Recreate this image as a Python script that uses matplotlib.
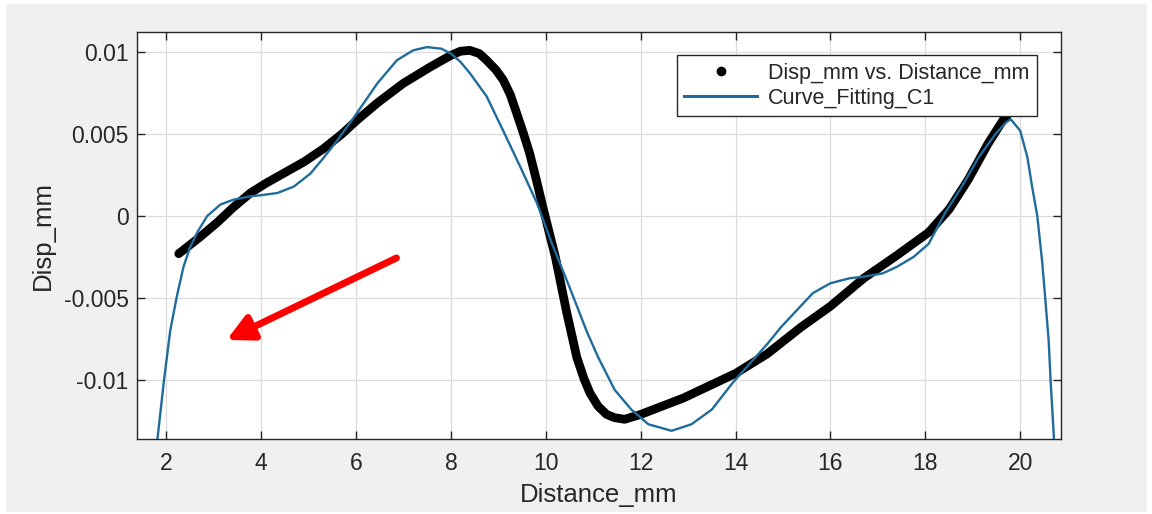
import matplotlib.pyplot as plt
from matplotlib.lines import Line2D
from matplotlib.patches import Rectangle

plt.rcParams['font.family'] = ['Liberation Sans', 'DejaVu Sans']

disp_x = [2.26, 2.7, 3.07, 3.4, 3.77, 4.1, 4.47, 4.9, 5.31, 5.7, 6.0, 6.45, 7.0, 7.57,
          8.0, 8.2, 8.4, 8.6, 8.75, 8.95, 9.1, 9.25, 9.38, 9.52, 9.66, 9.8, 9.94,
          10.07, 10.2, 10.32, 10.44, 10.55, 10.65, 10.8, 10.93, 11.1, 11.28, 11.45,
          11.66, 12.0, 12.9, 14.0, 14.67, 15.37, 16.0, 16.7, 17.4, 18.07, 18.5, 18.9,
          19.32, 19.65, 19.72]
disp_y = [-0.0023, -0.0013, -0.0004, 0.0005, 0.0014, 0.0020, 0.0026, 0.0033, 0.0041,
          0.0050, 0.0058, 0.0069, 0.0081, 0.0091, 0.0098, 0.01005, 0.0101, 0.0099,
          0.0095, 0.0089, 0.0083, 0.0074, 0.0063, 0.0051, 0.0038, 0.0022, 0.0005,
          -0.0010, -0.0025, -0.0042, -0.0059, -0.0073, -0.0086, -0.0099, -0.0108,
          -0.0116, -0.0121, -0.0123, -0.0124, -0.0121, -0.0111, -0.0096, -0.0084,
          -0.0068, -0.0055, -0.0038, -0.0024, -0.0010, 0.0004, 0.0022, 0.0044, 0.0059,
          0.0061]

# fitted curve (Curve_Fitting_C1)
fit_x = [1.78, 1.95, 2.08, 2.22, 2.36, 2.5, 2.65, 2.86, 3.14, 3.42, 3.77, 4.0, 4.34,
         4.69, 5.04, 5.3, 5.6, 5.95, 6.45, 6.86, 7.2, 7.49, 7.8, 8.0, 8.2, 8.4, 8.75,
         9.1, 9.46, 9.81, 10.13, 10.52, 10.87, 11.1, 11.45, 11.8, 12.16, 12.65, 13.07,
         13.5, 13.93, 14.3, 14.67, 14.95, 15.37, 15.63, 16.0, 16.4, 16.7, 17.1, 17.4,
         17.75, 18.07, 18.42, 18.77, 19.13, 19.48, 19.7, 19.8, 20.0, 20.15, 20.25,
         20.36, 20.46, 20.53, 20.6, 20.64, 20.71, 20.72]
fit_y = [-0.0144, -0.0100, -0.0070, -0.0049, -0.0031, -0.0019, -0.0010, 0.0000, 0.0007,
         0.0010, 0.0012, 0.00127, 0.0014, 0.0018, 0.0026, 0.0035, 0.0046, 0.0060,
         0.0081, 0.0095, 0.0101, 0.0103, 0.0102, 0.0099, 0.0094, 0.0087, 0.0073, 0.0052,
         0.0030, 0.0008, -0.0017, -0.0045, -0.0071, -0.0086, -0.0106, -0.0118, -0.0127,
         -0.0131, -0.0127, -0.0118, -0.0102, -0.0090, -0.0078, -0.0068, -0.0055,
         -0.0047, -0.0041, -0.0038, -0.0037, -0.0035, -0.0031, -0.0025, -0.0017,
         0.0002, 0.0018, 0.0036, 0.0050, 0.0057, 0.0059, 0.0052, 0.0036, 0.0018,
         0.0000, -0.0027, -0.0051, -0.0076, -0.0100, -0.0135, -0.0145]

x_ticks = [2, 4, 6, 8, 10, 12, 14, 16, 18, 20]
y_ticks = [0.01, 0.005, 0, -0.005, -0.01]
y_tick_labels = ['0.01', '0.005', '0', '-0.005', '-0.01']

ink = '#262626'
fit_color = '#1f6c9c'

fig = plt.figure(figsize=(11.52, 5.14), dpi=100, facecolor='white')
fig.patches.append(Rectangle((6 / 1152, 2 / 514), 1141 / 1152, 508 / 514,
                             transform=fig.transFigure, facecolor='#f0f0f0',
                             edgecolor='none', zorder=-10))

ax = fig.add_axes([137 / 1152, 1 - 439 / 514, 924 / 1152, 407 / 514])
ax.set_facecolor('white')

ax.plot(disp_x, disp_y, color='black', lw=6.3, solid_capstyle='round',
        solid_joinstyle='round', zorder=3)
ax.plot(fit_x, fit_y, color=fit_color, lw=1.7, solid_joinstyle='round', zorder=4)

ax.set_xlim(1.38, 20.86)
ax.set_ylim(-0.0136, 0.01122)
ax.set_xticks(x_ticks)
ax.set_yticks(y_ticks, y_tick_labels)
ax.grid(True, color='#dcdcdc', lw=0.9)
ax.set_axisbelow(True)

ax.tick_params(direction='in', top=True, right=True, length=6, width=1,
               color=ink, labelcolor=ink, labelsize=16.5)
ax.tick_params(axis='x', pad=9)
ax.tick_params(axis='y', pad=6)
for s in ax.spines.values():
    s.set_color(ink)
    s.set_linewidth(1)

ax.set_xlabel('Distance_mm', fontsize=18.5, color=ink, labelpad=6)
ax.set_ylabel('Disp_mm', fontsize=18.5, color=ink, labelpad=6)

handles = [Line2D([], [], ls='none', marker='o', ms=6, color='black'),
           Line2D([], [], color=fit_color, lw=2.2)]
leg = ax.legend(handles, ['Disp_mm vs. Distance_mm', 'Curve_Fitting_C1'],
                loc='upper right', bbox_to_anchor=(0.974, 0.9435), borderaxespad=0,
                fontsize=15.5, fancybox=False, framealpha=1, edgecolor=ink,
                handlelength=3.4, handletextpad=0.5, borderpad=0.35,
                labelspacing=0.2)
leg.get_frame().set_linewidth(1)
for t in leg.get_texts():
    t.set_color(ink)

# red arrow annotation
ax.annotate('', xy=(3.27, -0.00756), xytext=(6.85, -0.00256),
            arrowprops=dict(arrowstyle='-|>,head_length=0.55,head_width=0.28',
                            color='#ff0000', lw=5, mutation_scale=28,
                            shrinkA=0, shrinkB=0), zorder=5)

fig.savefig('out.png', dpi=100, facecolor=fig.get_facecolor())
